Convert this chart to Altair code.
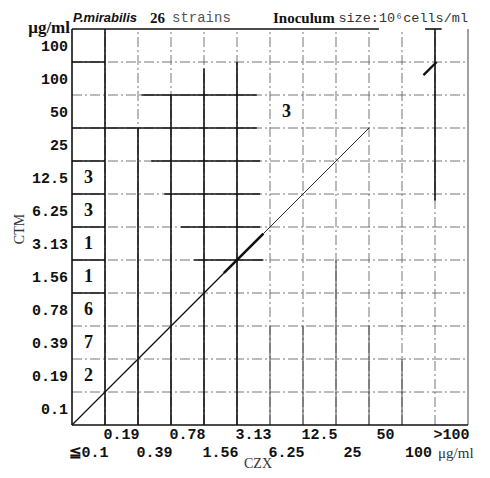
import altair as alt
import pandas as pd

# ---- data ----
CZX = ["≦0.1", "0.19", "0.39", "0.78", "1.56", "3.13", "6.25", "12.5", "25", "50", "100", ">100"]
CTM = ["0.1", "0.19", "0.39", "0.78", "1.56", "3.13", "6.25", "12.5", "25", "50", "100", "100"]

cell_czx = ["≦0.1", "≦0.1", "≦0.1", "≦0.1", "≦0.1", "≦0.1", "≦0.1", "6.25"]
cell_ctm_idx = [7, 6, 5, 4, 3, 2, 1, 9]          # row index in CTM (bottom = 0)
cell_n = [3, 3, 1, 1, 6, 7, 2, 3]

# emphasised (solid) grid segments, in grid units: (x0, y0, x1, y1)
solid_segments = [
    (0, 0, 0, 12), (0, 0, 12, 0), (0, 12, 9.3, 12), (10.7, 12, 11.2, 12),
    (1, 0, 1, 12), (2, 0, 2, 9), (3, 0, 3, 10), (4, 0, 4, 10.8), (5, 0, 5, 11),
    (11, 6.8, 11, 12),
    (0, 11, 1, 11), (2.1, 10, 5.6, 10), (0, 9, 5.6, 9),
    (0, 8, 1, 8), (2.4, 8, 5.7, 8), (0, 7, 1, 7), (2.8, 7, 5.7, 7),
    (0, 6, 1, 6), (3.3, 6, 5.7, 6), (0, 5, 1, 5), (3.7, 5, 5.8, 5), (0, 4, 1, 4),
]
thin_segments = [
    (12, 0, 12, 12), (6, 0, 6, 3), (7, 0, 7, 3), (8, 0, 8, 5), (9, 0, 9, 3), (10, 0, 10, 2),
]
diag_segments = [(0, 0, 4.6, 4.6), (4.6, 4.6, 5.8, 5.8), (5.8, 5.8, 9, 9), (10.65, 10.6, 11.05, 11.0)]
diag_widths = [1.3, 2.6, 0.9, 2.4]

N = len(CZX)
W = H = 396

xs = alt.Scale(domain=[0, N], nice=False, zero=False)
ys = alt.Scale(domain=[0, N], nice=False, zero=False)

def seg_df(segs):
    return pd.DataFrame(segs, columns=["x", "y", "x2", "y2"])

grid_df = pd.DataFrame(
    [(i, 0, i, N) for i in range(1, N)] + [(0, i, N, i) for i in range(1, N)],
    columns=["x", "y", "x2", "y2"],
)

def rules(df, **kw):
    return alt.Chart(df).mark_rule(**kw).encode(
        x=alt.X("x:Q", scale=xs, axis=None),
        y=alt.Y("y:Q", scale=ys, axis=None),
        x2="x2:Q", y2="y2:Q",
    )

grid = rules(grid_df, color="#666", strokeWidth=0.9, strokeDash=[10, 3, 2, 3])
solid = rules(seg_df(solid_segments), color="#111", strokeWidth=1.6)
thin = rules(seg_df(thin_segments), color="#444", strokeWidth=1.0)

ddf = seg_df(diag_segments)
ddf["w"] = diag_widths
diag = alt.Chart(ddf).mark_rule(color="#111").encode(
    x=alt.X("x:Q", scale=xs, axis=None),
    y=alt.Y("y:Q", scale=ys, axis=None),
    x2="x2:Q", y2="y2:Q",
    strokeWidth=alt.StrokeWidth("w:Q", scale=None),
)

# counts in cells
cdf = pd.DataFrame({
    "cx": [CZX.index(c) + 0.5 for c in cell_czx],
    "cy": [r + 0.5 for r in cell_ctm_idx],
    "n": [str(v) for v in cell_n],
})
counts = alt.Chart(cdf).mark_text(
    font="Liberation Serif", fontWeight="bold", fontSize=18, baseline="middle", color="#111"
).encode(x=alt.X("cx:Q", scale=xs, axis=None), y=alt.Y("cy:Q", scale=ys, axis=None), text="n:N")

# y tick labels
ydf = pd.DataFrame({"lab": CTM, "yc": [i + 0.5 for i in range(N)]})
ylabels = alt.Chart(ydf).mark_text(
    font="Liberation Mono", fontWeight="bold", fontSize=15, align="right", baseline="middle", color="#111"
).encode(x=alt.value(-4), y=alt.Y("yc:Q", scale=ys, axis=None), text="lab:N")

# x tick labels (alternating rows)
xdf = pd.DataFrame({"lab": CZX, "xc": [i + 0.5 for i in range(N)]})
xdf["row"] = [i % 2 for i in range(N)]
xlab_up = alt.Chart(xdf[xdf.row == 1]).mark_text(
    font="Liberation Mono", fontWeight="bold", fontSize=15, align="center", baseline="middle", color="#111"
).encode(x=alt.X("xc:Q", scale=xs, axis=None), y=alt.value(H + 9), text="lab:N")
xlab_lo = alt.Chart(xdf[xdf.row == 0]).mark_text(
    font="Liberation Mono", fontWeight="bold", fontSize=15, align="center", baseline="middle", color="#111"
).encode(x=alt.X("xc:Q", scale=xs, axis=None), y=alt.value(H + 27), text="lab:N")

def label(text, x, y, **kw):
    return alt.Chart(pd.DataFrame({"t": [text]})).mark_text(**kw).encode(
        x=alt.value(x), y=alt.value(y), text="t:N"
    )

texts = [
    label("P.mirabilis", 1, -11, font="Liberation Sans", fontStyle="italic", fontWeight="bold",
          fontSize=13, align="left", baseline="middle", color="#111"),
    label("26", 78, -11, font="Liberation Serif", fontWeight="bold", fontSize=15,
          align="left", baseline="middle", color="#111"),
    label("strains", 100, -11, font="Liberation Mono", fontSize=14,
          align="left", baseline="middle", color="#555"),
    label("Inoculum", 201, -11, font="Liberation Serif", fontWeight="bold", fontSize=15,
          align="left", baseline="middle", color="#111"),
    label("size:10⁶cells/ml", 396, -11, font="Liberation Mono", fontSize=13.5,
          align="right", baseline="middle", color="#333"),
    label("μg/ml", -2, -1, font="Liberation Serif", fontWeight="bold", fontSize=17,
          align="right", baseline="middle", color="#111"),
    label("μg/ml", 366, H + 28, font="Liberation Serif", fontSize=15,
          align="left", baseline="middle", color="#333"),
    label("CTM", -52, 200, font="Liberation Serif", fontSize=14, angle=270,
          align="center", baseline="middle", color="#333"),
    label("CZX", 186, H + 43, font="Liberation Serif", fontSize=14,
          align="center", baseline="alphabetic", color="#333"),
]

chart = alt.layer(grid, thin, solid, diag, counts, ylabels, xlab_up, xlab_lo, *texts).properties(
    width=W, height=H,
    autosize=alt.AutoSizeParams(type="none"),
    padding={"left": 64, "top": 21, "right": 14, "bottom": 45},
    background="white",
).configure_view(stroke=None)

chart.save("out.html", embed_options={"renderer": "svg", "actions": False})
